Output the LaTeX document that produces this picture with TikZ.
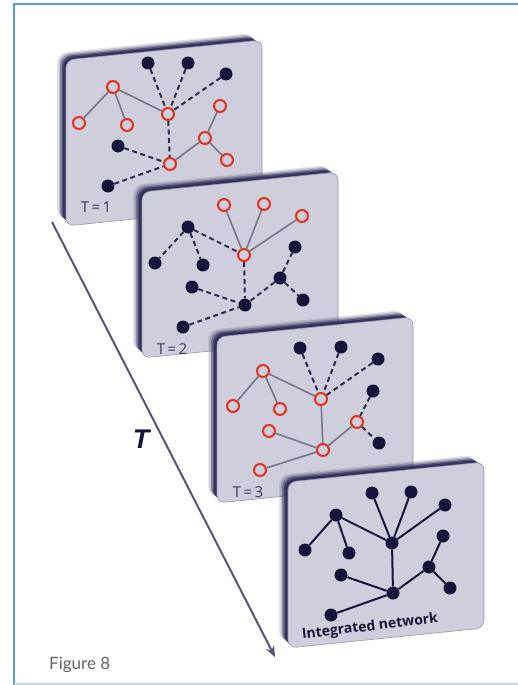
\documentclass[tikz,border=0pt]{standalone}
\usepackage{fontspec}
\setmainfont{Open Sans}
\newfontfamily\figfont{Lato}
\newfontfamily\bigTfont{Liberation Sans}
\usetikzlibrary{arrows.meta}
\definecolor{framec}{RGB}{91,155,213}
\definecolor{framelight}{RGB}{189,215,238}
\definecolor{facec}{RGB}{206,206,220}
\definecolor{edgec}{RGB}{150,150,168}
\definecolor{shadowc}{RGB}{45,44,88}
\definecolor{navy}{RGB}{20,20,58}
\definecolor{redc}{RGB}{232,48,28}
\definecolor{grayedge}{RGB}{118,118,138}
\definecolor{arrowc}{RGB}{86,85,125}
\definecolor{figc}{RGB}{100,100,100}
\tikzset{
  x=1pt,y=-1pt,
  dn/.style={circle,fill=navy,minimum size=13pt,inner sep=0pt},
  rn/.style={circle,draw=redc,line width=2pt,fill=facec,minimum size=12pt,inner sep=0pt},
  solidedge/.style={draw=grayedge,line width=1.6pt},
  dashedge/.style={draw=navy!90,line width=2pt,dash pattern=on 5pt off 3.5pt},
  netedge/.style={draw=navy,line width=2pt},
  tlabel/.style={text=navy!85,font=\fontsize{15}{16}\selectfont,inner sep=0pt}
}
\newcommand\panelcard[2]{%
  \begin{scope}[shift={(#1,#2)}]
    \foreach \d/\o in {9/0.12,7.5/0.2,6/0.35,4.5/0.6,3/0.8} {
      \fill[shadowc,opacity=\o,rounded corners=10pt] (-\d,-\d*0.8) -- ++(196,-20) -- ++(0,166) -- ++(-196,20) -- cycle;
    }
    \filldraw[fill=facec,draw=edgec,line width=0.6pt,rounded corners=8pt] (0,0) -- (196,-20) -- (196,146) -- (0,166) -- cycle;
  \end{scope}}
\begin{document}
\begin{tikzpicture}
\useasboundingbox (0,0) rectangle (518,685);
% frame
\draw[framec,line width=2pt] (14,685) -- (14,4) -- (518,4);
\draw[framelight,line width=1.5pt] (14,684) -- (518,684);
% time arrow
\coordinate (ts) at (52,222);
\coordinate (te) at (275,657);
\draw[arrowc,line width=2pt,-{Stealth[length=11pt,width=9pt]}] (ts) -- (te);
\node[font=\bigTfont\bfseries\itshape\fontsize{27}{29}\selectfont,text=navy] (bigT) at (141,439) {T};

% ---------- Panel 1 ----------
\panelcard{66}{60}
\node[dn] (a1) at (148,63) {};
\node[dn] (a2) at (188,63) {};
\node[dn] (a3) at (226,74) {};
\node[dn] (a4) at (118,146) {};
\node[dn] (a5) at (108,186) {};
\node[rn] (r1) at (113,87) {};
\node[rn] (r2) at (79,123) {};
\node[rn] (r3) at (127,125) {};
\node[rn] (r4) at (168,114) {};
\node[rn] (r5) at (220,106) {};
\node[rn] (r6) at (205,138) {};
\node[rn] (r7) at (227,160) {};
\node[rn] (r8) at (170,164) {};
\draw[solidedge] (r1) -- (r2) (r1) -- (r3) (r1) -- (r4) (r5) -- (r6) (r6) -- (r7) (r6) -- (r8);
\draw[dashedge] (a1) -- (r4) (a2) -- (r4) (a3) -- (r4) (r4) -- (r8) (a4) -- (r8) (a5) -- (r8);
\node[tlabel] (l1) at (96,207) {T\,=\,1};

% ---------- Panel 2 ----------
\panelcard{142}{192}
\node[rn] (b1) at (224,205) {};
\node[rn] (b2) at (264,204) {};
\node[rn] (b3) at (302,216) {};
\node[rn] (b4) at (244,255) {};
\node[dn] (c1) at (188,227) {};
\node[dn] (c2) at (155,263) {};
\node[dn] (c3) at (203,265) {};
\node[dn] (c4) at (295,247) {};
\node[dn] (c5) at (192,287) {};
\node[dn] (c6) at (280,278) {};
\node[dn] (c7) at (245,305) {};
\node[dn] (c8) at (303,300) {};
\node[dn] (c9) at (183,327) {};
\draw[solidedge] (b1) -- (b4) (b2) -- (b4) (b3) -- (b4);
\draw[dashedge] (c1) -- (c2) (c1) -- (c3) (c1) -- (b4) (b4) -- (c7) (c5) -- (c7) (c6) -- (c7) (c6) -- (c4) (c6) -- (c8) (c9) -- (c7);
\node[tlabel] (l2) at (172,349) {T\,=\,2};

% ---------- Panel 3 ----------
\panelcard{217}{337}
\node[dn] (d1) at (300,348) {};
\node[dn] (d2) at (341,347) {};
\node[dn] (d3) at (378,359) {};
\node[dn] (d4) at (373,391) {};
\node[dn] (d5) at (379,443) {};
\node[rn] (e1) at (263,371) {};
\node[rn] (e2) at (233,406) {};
\node[rn] (e3) at (280,409) {};
\node[rn] (e4) at (321,399) {};
\node[rn] (e5) at (269,431) {};
\node[rn] (e6) at (357,422) {};
\node[rn] (e7) at (323,450) {};
\node[rn] (e8) at (260,470) {};
\draw[solidedge] (e1) -- (e2) (e1) -- (e3) (e1) -- (e4) (e4) -- (e7) (e5) -- (e7) (e6) -- (e7) (e8) -- (e7);
\draw[dashedge] (d1) -- (e4) (d2) -- (e4) (d3) -- (e4) (d4) -- (e6) (e6) -- (d5);
\node[tlabel] (l3) at (248,492) {T\,=\,3};

% ---------- Panel 4 ----------
\panelcard{288}{482}
\node[dn] (f1) at (372,493) {};
\node[dn] (f2) at (411,492) {};
\node[dn] (f3) at (445,505) {};
\node[dn] (f4) at (336,515) {};
\node[dn] (f5) at (305,550) {};
\node[dn] (f6) at (349,553) {};
\node[dn] (f7) at (392,543) {};
\node[dn] (f8) at (443,536) {};
\node[dn] (f9) at (341,575) {};
\node[dn] (f10) at (429,567) {};
\node[dn] (f11) at (393,593) {};
\node[dn] (f12) at (450,588) {};
\node[dn] (f13) at (331,615) {};
\draw[netedge] (f4) -- (f5) (f4) -- (f6) (f4) -- (f7) (f1) -- (f7) (f2) -- (f7) (f3) -- (f7) (f7) -- (f11) (f9) -- (f11) (f10) -- (f11) (f10) -- (f8) (f10) -- (f12) (f13) -- (f11);
\node[text=navy,font=\fontsize{14}{15}\selectfont\bfseries,rotate=7,inner sep=0pt] (l4) at (370,627) {Integrated network};

% caption
\node[text=figc,font=\figfont\fontsize{17}{18}\selectfont,anchor=west,inner sep=0pt] (cap) at (49,665) {Figure 8};
\end{tikzpicture}
\end{document}
